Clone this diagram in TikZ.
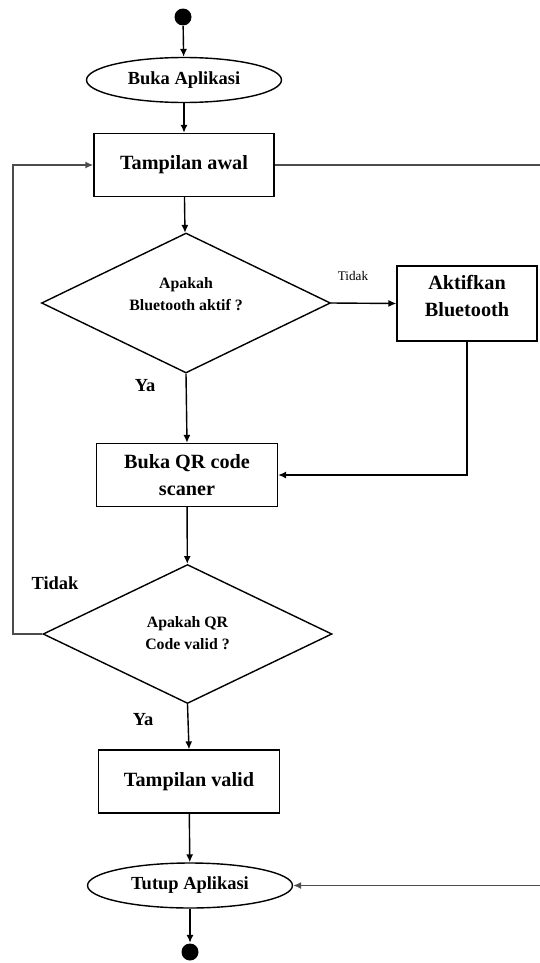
\documentclass[tikz,border=0pt]{standalone}
\usepackage{fontspec}
\setmainfont{Liberation Serif}
\usepackage{tikz}
\usetikzlibrary{shapes,arrows,positioning,calc,arrows.meta}

\begin{document}
\begin{tikzpicture}[x=0.02cm, y=-0.02cm, line width=0.8pt,
        >={Latex[length=4.5pt,width=4pt]},
        proses/.style={draw, rectangle, minimum width=3.62cm, minimum height=1.26cm, align=center, font=\fontsize{11.5}{15}\selectfont\bfseries},
        terminal/.style={draw, ellipse, minimum width=3.9cm, minimum height=0.9cm, inner sep=0pt, font=\fontsize{10.5}{12}\selectfont\bfseries},
        keputusan/.style={draw, diamond, minimum width=5.78cm, minimum height=2.78cm, inner sep=0pt},
        tanya/.style={align=center, font=\fontsize{9}{12.5}\selectfont\bfseries},
        titik/.style={circle, fill=black, minimum size=0.34cm, inner sep=0pt},
        ket/.style={font=\fontsize{10.5}{12}\selectfont\bfseries},
        balik/.style={->, draw=black!70, line width=1pt}]
        \useasboundingbox (0,0) rectangle (539,963);

        % simpul utama
        \node[titik] (mulai) at (183,17) {};
        \node[terminal] (buka) at (184,80) {Buka Aplikasi};
        \node[proses, minimum width=3.6cm] (awal) at (184,165) {Tampilan awal};
        \node[keputusan, minimum height=2.8cm] (cek1) at (186,303) {};
        \node[tanya] (tanya1) at (186,294) {Apakah\\Bluetooth aktif ?};
        \node[proses, minimum width=2.8cm, minimum height=1.5cm] (aktif) at (467,303.5) {};
        \node[proses, draw=none] (aktiftxt) at (467,296) {Aktifkan\\Bluetooth};
        \node[proses] (qr) at (187,475) {Buka QR code\\scaner};
        \node[keputusan] (cek2) at (187.5,634) {};
        \node[tanya] (tanya2) at (187.5,633) {Apakah QR\\Code valid ?};
        \node[proses] (valid) at (189,781.5) {Tampilan valid};
        \node[terminal, minimum width=4.1cm] (tutup) at (190,885.5) {Tutup Aplikasi};
        \node[titik] (selesai) at (190,952) {};

        % label cabang
        \node[font=\fontsize{7.5}{9}\selectfont] (tidak1) at (353,276) {Tidak};
        \node[ket] (ya1) at (145,386) {Ya};
        \node[ket] (tidak2) at (55,583) {Tidak};
        \node[ket] (ya2) at (143,720) {Ya};

        \coordinate (kiri) at (13,0);
        \coordinate (kanan) at (541,0);

        % alur
        \draw[->] (mulai) -- (buka);
        \draw[->] (buka) -- (awal);
        \draw[->] (awal) -- (cek1);
        \draw[->] (cek1.east) -- (aktif.west);
        \draw[->] (cek1.south) -- (qr.north);
        \draw[->] (aktif.south) |- (qr.east);
        \draw[->] (qr) -- (cek2);
        \draw[->] (cek2.south) -- (valid.north);
        \draw[->] (valid) -- (tutup);
        \draw[->] (tutup) -- (selesai);
        \draw[balik] (cek2.west) -- (cek2.west -| kiri) -- (awal.west -| kiri) -- (awal.west);
        \draw[balik] (awal.east) -- (awal.east -| kanan) -- (tutup.east -| kanan) -- (tutup.east);
\end{tikzpicture}
\end{document}
